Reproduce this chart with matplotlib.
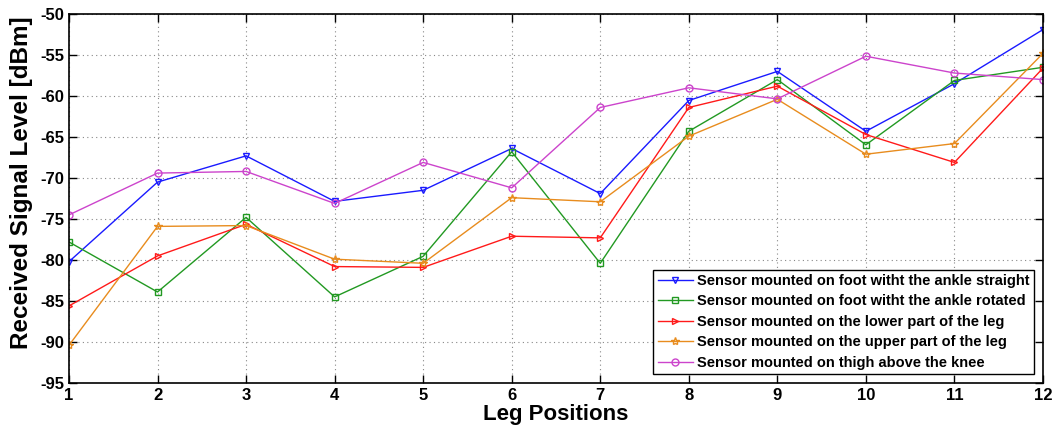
import matplotlib
matplotlib.use("Agg")
import matplotlib.pyplot as plt

plt.rcParams['font.family'] = ['Liberation Sans', 'DejaVu Sans']
plt.rcParams['font.weight'] = 'bold'
plt.rcParams['axes.unicode_minus'] = False

positions = [1, 2, 3, 4, 5, 6, 7, 8, 9, 10, 11, 12]

foot_straight = [-80.2, -70.5, -67.3, -72.85, -71.5, -66.4, -71.9, -60.55, -57.0, -64.3, -58.5, -51.9]
foot_rotated = [-77.8, -83.9, -74.8, -84.5, -79.55, -66.8, -80.4, -64.3, -58.0, -65.95, -58.1, -56.5]
lower_leg = [-85.6, -79.5, -75.65, -80.8, -80.9, -77.1, -77.3, -61.4, -58.8, -64.7, -68.1, -56.6]
upper_leg = [-90.4, -75.9, -75.8, -79.9, -80.4, -72.4, -72.9, -64.9, -60.4, -67.1, -65.8, -54.8]
thigh = [-74.5, -69.4, -69.2, -73.1, -68.1, -71.2, -61.4, -59.0, -60.35, -55.15, -57.2, -58.0]

labels = [
    "Sensor mounted on foot witht the ankle straight",
    "Sensor mounted on foot witht the ankle rotated",
    "Sensor mounted on the lower part of the leg",
    "Sensor mounted on the upper part of the leg",
    "Sensor mounted on thigh above the knee",
]
series = [foot_straight, foot_rotated, lower_leg, upper_leg, thigh]
colors = ["#1a1aff", "#229922", "#ff1a1a", "#e88c1e", "#cc44cc"]
markers = ["v", "s", ">", "*", "o"]

fig = plt.figure(figsize=(10.58, 4.32), dpi=100)
ax = fig.add_axes([0.0652, 0.1134, 0.9206, 0.8542])

for vals, lab, c, m in zip(series, labels, colors, markers):
    ax.plot(positions, vals, color=c, marker=m, markersize=5 if m != "*" else 6,
            markerfacecolor="none", markeredgecolor=c, markeredgewidth=1.0,
            linewidth=1.0, label=lab)

ax.set_xlim(1, 12)
ax.set_ylim(-95, -50)
ax.set_xticks(positions)
ax.set_yticks(range(-95, -49, 5))
ax.tick_params(direction="in", labelsize=12, length=6, width=1, top=True, right=True)
for lbl in ax.get_xticklabels() + ax.get_yticklabels():
    lbl.set_fontweight("bold")
ax.grid(True, linestyle=(0, (1, 3)), color="#888888", linewidth=0.8)
for s in ax.spines.values():
    s.set_linewidth(1.2)

ax.set_xlabel("Leg Positions", fontsize=16, fontweight="bold", labelpad=1)
ax.set_ylabel("Received Signal Level [dBm]", fontsize=17.5, fontweight="bold")
ax.yaxis.set_label_coords(-0.037, 0.543)

leg = ax.legend(loc="lower right", bbox_to_anchor=(0.9908, 0.0244),
                prop={"weight": "bold", "size": 10.5}, frameon=True, fancybox=False,
                edgecolor="black", framealpha=1, handlelength=2.4, handletextpad=0.3,
                labelspacing=0.44, borderpad=0.3, borderaxespad=0)
leg.get_frame().set_linewidth(1.0)

fig.savefig("out.png", dpi=100)
